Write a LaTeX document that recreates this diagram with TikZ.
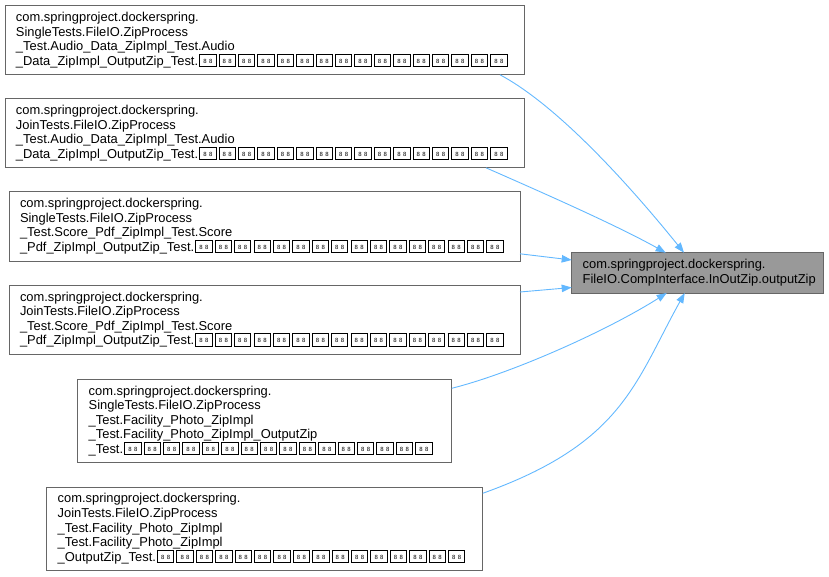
\documentclass[tikz,border=0pt]{standalone}
\usepackage{fontspec}
\setmainfont{Liberation Sans}
\usetikzlibrary{arrows.meta}
\definecolor{edgeblue}{HTML}{63B8FF}
\definecolor{framegray}{HTML}{666666}
\definecolor{focusgray}{HTML}{999999}
% missing-glyph box, as the picture prints it
\newcommand{\tofu}{\kern1.1pt\raisebox{-0.8pt}{\fboxsep=0pt\fboxrule=0.9pt%
  \fbox{\makebox[15.4pt][c]{\rule{0pt}{11.5pt}\raisebox{3pt}{\fontsize{6}{6}\selectfont 8\hspace{2.4pt}8}}}}\kern1.1pt}
\newcommand{\tofufour}{\tofu\tofu\tofu\tofu}
\newcommand{\tofurow}{\tofufour\tofufour\tofufour\tofufour}
\tikzset{
  callgraph/.style={x=1pt, y=-1pt, line width=1pt},
  cbox/.style={draw=framegray, fill=white, anchor=north west, align=left,
    inner xsep=11pt, inner ysep=0pt, outer sep=0pt,
    font=\fontsize{12.9}{14.6}\selectfont},
  focusbox/.style={cbox, fill=focusgray},
  cedge/.style={draw=edgeblue, line width=0.9pt, -{Triangle[length=10pt,width=7.5pt]}},
}

\begin{document}
\begin{tikzpicture}[callgraph]
  \useasboundingbox (0,0) rectangle (829,577);
  % callers
  \node[cbox, text width=497pt, minimum height=69.5pt] (b1) at (5,5.3)
    {com.springproject.dockerspring.\\SingleTests.FileIO.ZipProcess\\\_Test.Audio\_Data\_ZipImpl\_Test.Audio\\\_Data\_ZipImpl\_OutputZip\_Test.\tofurow};
  \node[cbox, text width=497pt, minimum height=69.5pt] (b2) at (5,98.3)
    {com.springproject.dockerspring.\\JoinTests.FileIO.ZipProcess\\\_Test.Audio\_Data\_ZipImpl\_Test.Audio\\\_Data\_ZipImpl\_OutputZip\_Test.\tofurow};
  \node[cbox, text width=489pt, minimum height=69.5pt] (b3) at (9,191.6)
    {com.springproject.dockerspring.\\SingleTests.FileIO.ZipProcess\\\_Test.Score\_Pdf\_ZipImpl\_Test.Score\\\_Pdf\_ZipImpl\_OutputZip\_Test.\tofurow};
  \node[cbox, text width=489pt, minimum height=69.5pt] (b4) at (9,285)
    {com.springproject.dockerspring.\\JoinTests.FileIO.ZipProcess\\\_Test.Score\_Pdf\_ZipImpl\_Test.Score\\\_Pdf\_ZipImpl\_OutputZip\_Test.\tofurow};
  \node[cbox, text width=352pt, minimum height=83.7pt] (b5) at (77.7,379)
    {com.springproject.dockerspring.\\SingleTests.FileIO.ZipProcess\\\_Test.Facility\_Photo\_ZipImpl\\\_Test.Facility\_Photo\_ZipImpl\_OutputZip\\\_Test.\tofurow};
  \node[cbox, text width=414pt, minimum height=83.7pt] (b6) at (46.7,487)
    {com.springproject.dockerspring.\\JoinTests.FileIO.ZipProcess\\\_Test.Facility\_Photo\_ZipImpl\\\_Test.Facility\_Photo\_ZipImpl\\\_OutputZip\_Test.\tofurow};
  % called function
  \node[focusbox, text width=229.3pt, minimum height=40.3pt] (t) at (571.7,252.7)
    {com.springproject.dockerspring.\\FileIO.CompInterface.InOutZip.outputZip};
  % call edges
  \draw[cedge] ([xshift=-24pt]b1.south east) .. controls +(60,32) and +(-50,-62) .. ([xshift=112.3pt]t.north west);
  \draw[cedge] ([xshift=-38pt]b2.south east) .. controls +(50,22) and +(-50,-28) .. ([xshift=94pt]t.north west);
  \draw[cedge] ([yshift=7.3pt]b3.south east) -- ([yshift=-7.3pt]t.north west);
  \draw[cedge] ([yshift=-7pt]b4.north east) -- ([yshift=5.5pt]t.south west);
  \draw[cedge] ([yshift=-9.3pt]b5.north east) .. controls +(60,-15) and +(-60,38) .. ([xshift=95pt]t.south west);
  \draw[cedge] ([yshift=-6.3pt]b6.north east) .. controls +(140,-50) and +(-50,90) .. ([xshift=113pt]t.south west);
\end{tikzpicture}
\end{document}
